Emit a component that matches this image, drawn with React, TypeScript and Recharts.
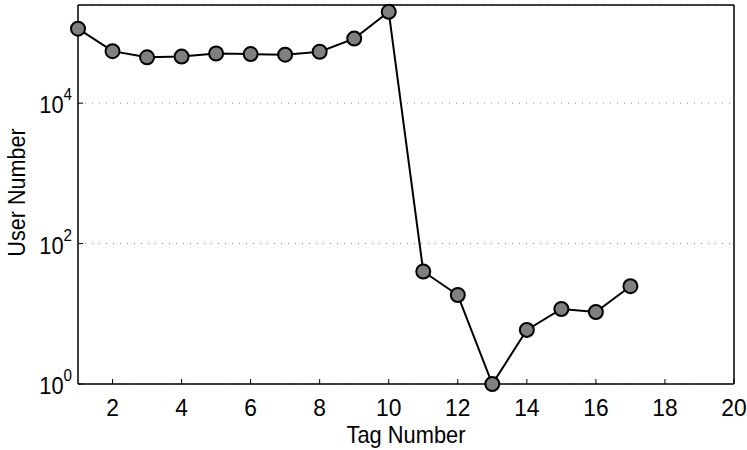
import { LineChart, Line, XAxis, YAxis, CartesianGrid } from 'recharts'

const tagNumbers = [1, 2, 3, 4, 5, 6, 7, 8, 9, 10, 11, 12, 13, 14, 15, 16, 17]
const userNumbers = [115000, 55000, 45000, 46000, 51000, 50000, 49000, 54000, 83000, 200000, 40, 18.5, 1, 5.9, 11.7, 10.6, 24.7]
const xTicks = [2, 4, 6, 8, 10, 12, 14, 16, 18, 20]
const yTicks = [1, 100, 10000]
const yDomain = [1, 250000]

const data = tagNumbers.map((tag, i) => ({ tag, users: userNumbers[i] }))

const FONT = "'Liberation Sans', Arial, Helvetica, sans-serif"

// the original's font is a bit narrow, so squeeze along the text direction
function Squeezed({ x, y, size, squeeze = 0.9, anchor = 'middle', rotate = 0, children }: any) {
  const t = rotate
    ? `translate(${x},${y}) rotate(${rotate}) scale(${squeeze},1)`
    : `translate(${x},${y}) scale(${squeeze},1)`
  return (
    <text transform={t} textAnchor={anchor} fontSize={size} fontFamily={FONT} fill="#000">
      {children}
    </text>
  )
}

function XTick(props: any) {
  const { x, y, payload } = props
  return <Squeezed x={x} y={y + 33} size={24} squeeze={0.95}>{payload.value}</Squeezed>
}

function PowerTick(props: any) {
  const { x, y, payload } = props
  const exp = Math.round(Math.log10(payload.value))
  return (
    <Squeezed x={x} y={y + 10} size={23} squeeze={0.95} anchor="end">
      10
      <tspan dy={-13} fontSize={16}>{exp}</tspan>
    </Squeezed>
  )
}

function YLabel(props: any) {
  const { viewBox } = props
  const cy = viewBox.y + viewBox.height / 2 - 2
  return <Squeezed x={25} y={cy} size={24} rotate={-90}>User Number</Squeezed>
}

function XLabel(props: any) {
  const { viewBox } = props
  const cx = viewBox.x + viewBox.width / 2
  return <Squeezed x={cx} y={443} size={23} squeeze={0.95}>Tag Number</Squeezed>
}

export default function App() {
  const axisLine = { stroke: '#000', strokeWidth: 1.5 }
  const tickLine = { stroke: '#000', strokeWidth: 1 }
  return (
    <div style={{ position: 'absolute', left: 0, top: 0, background: '#fff' }}>
      <LineChart width={747} height={450} data={data} margin={{ top: 4, right: 12, bottom: 0, left: 0 }}>
        <CartesianGrid vertical={false} stroke="#888" strokeDasharray="1 6" />
        <XAxis
          dataKey="tag"
          type="number"
          domain={[1, 20]}
          ticks={xTicks}
          height={66}
          tickSize={-5}
          tickMargin={4}
          axisLine={axisLine}
          tickLine={tickLine}
          tick={<XTick />}
          label={<XLabel />}
        />
        <XAxis
          xAxisId="top"
          orientation="top"
          type="number"
          domain={[1, 20]}
          ticks={xTicks}
          height={1}
          tickSize={-5}
          axisLine={axisLine}
          tickLine={tickLine}
          tick={false}
        />
        <YAxis
          scale="log"
          type="number"
          domain={yDomain}
          ticks={yTicks}
          width={78}
          tickSize={-5}
          tickMargin={11}
          axisLine={axisLine}
          tickLine={tickLine}
          tick={<PowerTick />}
          label={<YLabel />}
        />
        <YAxis
          yAxisId="right"
          orientation="right"
          scale="log"
          type="number"
          domain={yDomain}
          ticks={yTicks}
          width={1}
          tickSize={-5}
          axisLine={axisLine}
          tickLine={tickLine}
          tick={false}
        />
        <Line
          dataKey="users"
          stroke="#000"
          strokeWidth={2}
          dot={{ r: 7, fill: '#808080', stroke: '#000', strokeWidth: 2 }}
          isAnimationActive={false}
        />
      </LineChart>
    </div>
  )
}
